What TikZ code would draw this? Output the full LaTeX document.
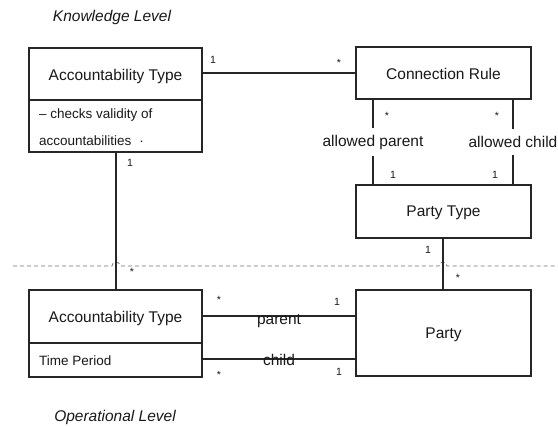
\documentclass[tikz,border=0pt]{standalone}
\usepackage{fontspec}
\setmainfont{Liberation Sans}
\begin{document}
\begin{tikzpicture}[x=1pt,y=-1pt,
  cls/.style={draw=black!85, line width=1.3pt, rectangle, inner sep=0pt},
  title/.style={font=\fontsize{15.5}{18}\selectfont, text=black!90},
  attr/.style={font=\fontsize{13.5}{16}\selectfont, text=black!90, anchor=west, inner sep=0pt},
  mult/.style={font=\fontsize{10.5}{12}\selectfont, text=black!90, inner sep=0pt},
  assoc/.style={draw=black!85, line width=1.3pt},
  role/.style={font=\fontsize{15.5}{18}\selectfont, text=black!90},
  level/.style={font=\itshape\fontsize{15.5}{18}\selectfont, text=black!90},
  boundary/.style={draw=black!55, line width=0.8pt, dash pattern=on 4pt off 3pt}
]
\useasboundingbox[fill=white] (0,0) rectangle (558,427);

% level captions
\node[level] (kl) at (112,17) {Knowledge Level};
\node[level] (ol) at (115,417) {Operational Level};

% knowledge level classes
\node[cls, minimum width=173pt, minimum height=104pt] (at1) at (115.5,100) {};
\draw[assoc] (at1.west) -- (at1.east);
\node[title] (at1t) at (115.5,76) {Accountability Type};
\node[attr] (at1a) at (39,115) {– checks validity of};
\node[attr] (at1b) at (39,141) {accountabilities\hspace{8pt}·};

\node[cls, minimum width=175pt, minimum height=52pt] (cr) at (443.5,73) {};
\node[title] (crt) at (443.5,74) {Connection Rule};

\node[cls, minimum width=175pt, minimum height=53pt] (pt) at (443.5,211.5) {};
\node[title] (ptt) at (443.5,213) {Party Type};

% operational level classes
\node[cls, minimum width=173pt, minimum height=87pt] (at2) at (115.5,333.5) {};
\draw[assoc] ([yshift=-9.5pt]at2.west) -- ([yshift=-9.5pt]at2.east);
\node[title] (at2t) at (115.5,318) {Accountability Type};
\node[attr] (at2a) at (39,361) {Time Period};

\node[cls, minimum width=175pt, minimum height=86pt] (pa) at (443.5,333) {};
\node[title] (pat) at (443.5,335) {Party};

% boundary between the levels, hopping over the crossing lines
\draw[boundary] (13,266) -- (112,266) arc[start angle=180, end angle=0, radius=4pt]
  -- (439,266) arc[start angle=180, end angle=0, radius=4pt] -- (558,266);

% associations
\draw[assoc] (cr.west -| at1.east) -- (cr.west);
\node[mult] (m1) at (213,60) {1};
\node[mult] (m2) at (339,63) {*};

\draw[assoc] ([xshift=0.5pt]at1.south) -- ([xshift=0.5pt]at2.north);
\node[mult] (m3) at (130,163) {1};
\node[mult] (m4) at (132,272) {*};

\draw[assoc] ([xshift=-70.5pt]cr.south) -- node[role, fill=white, inner ysep=7pt, inner xsep=2pt] (ap) {allowed parent} ([xshift=-70.5pt]pt.north);
\draw[assoc] ([xshift=69.5pt]cr.south) -- node[role, fill=white, inner ysep=7pt, inner xsep=2pt] (ac) {allowed child} ([xshift=69.5pt]pt.north);
\node[mult] (m5) at (387,116) {*};
\node[mult] (m6) at (497,116) {*};
\node[mult] (m7) at (393,175) {1};
\node[mult] (m8) at (495,175) {1};

\draw[assoc] ([xshift=-0.5pt]pt.south) -- ([xshift=-0.5pt]pa.north);
\node[mult] (m9) at (428,250) {1};
\node[mult] (m10) at (458,278) {*};

\draw[assoc] ([yshift=17.5pt]at2.east) -- node[role, anchor=base, yshift=-8.5pt] (par) {parent} ([yshift=17pt]pa.west);
\draw[assoc] ([yshift=-25.5pt]at2.east) -- node[role, anchor=base, yshift=-7pt] (chi) {child} ([yshift=-26pt]pa.west);
\node[mult] (m11) at (219,300) {*};
\node[mult] (m12) at (337,302) {1};
\node[mult] (m13) at (219,375) {*};
\node[mult] (m14) at (339,372) {1};
\end{tikzpicture}
\end{document}
